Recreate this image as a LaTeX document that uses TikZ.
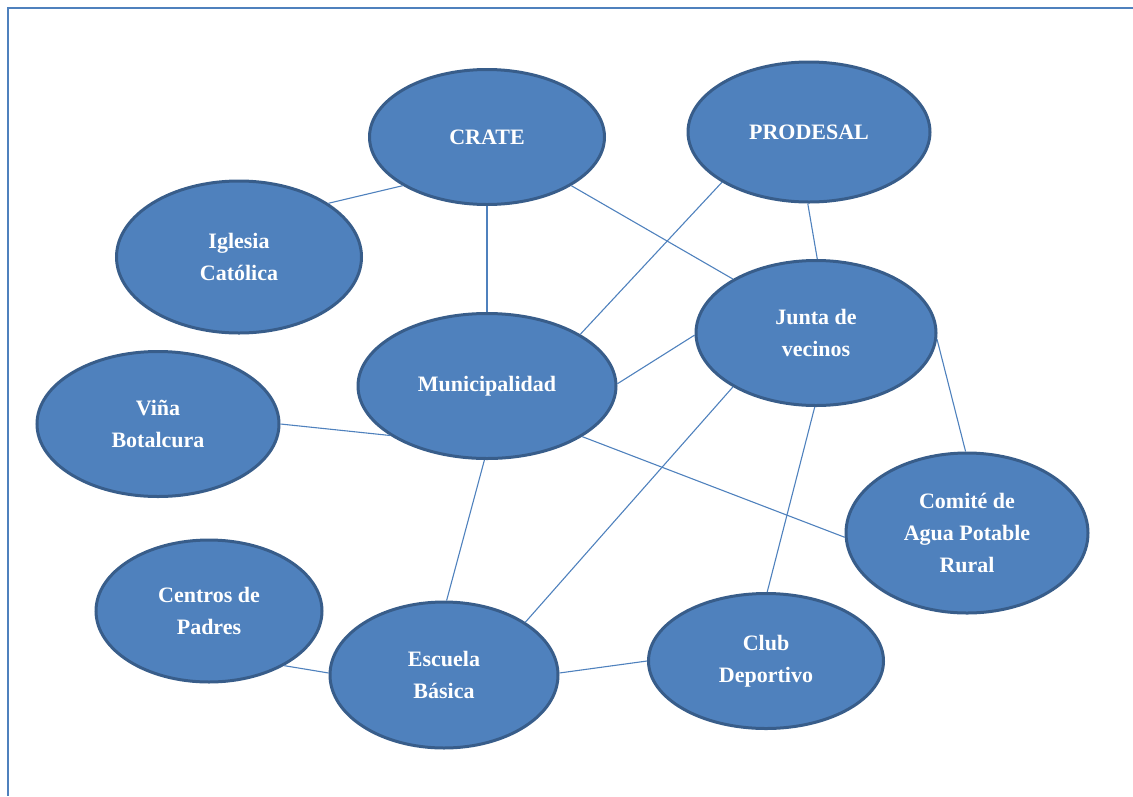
\documentclass[tikz,border=0pt]{standalone}
\usepackage{fontspec}
\setmainfont{Liberation Serif}
\usepackage{xcolor}
\usetikzlibrary{shapes.geometric}
\definecolor{orgfill}{HTML}{4F81BD}
\definecolor{orgline}{HTML}{385D8A}
\definecolor{linkblue}{HTML}{4F81BD}
\tikzset{
    org/.style={
        ellipse,
        draw=orgline,
        line width=3pt,
        fill=orgfill,
        text=white,
        align=center,
        inner sep=0pt,
        font=\fontsize{22}{32}\selectfont\bfseries
    },
    link/.style={
        draw=linkblue,
        line width=1.1pt
    },
    frame/.style={
        draw=linkblue,
        line width=2pt
    }
}

\begin{document}
\begin{tikzpicture}[x=1pt, y=-1pt]
\useasboundingbox (0,0) rectangle (1133,796);

% Frame
\coordinate (ftr) at (1133,8);
\coordinate (ftl) at (8,8);
\coordinate (fbl) at (8,796);
\draw[frame] (ftr) -- (ftl) -- (fbl);

% Organisations
\node[org, minimum width=235pt, minimum height=135pt] (crate) at (487,137) {CRATE};
\node[org, minimum width=242pt, minimum height=140pt] (prodesal) at (809,132) {PRODESAL};
\node[org, minimum width=245pt, minimum height=152pt] (iglesia) at (239,257) {Iglesia\\Católica};
\node[org, minimum width=240pt, minimum height=145pt] (junta) at (816,333) {Junta de\\vecinos};
\node[org, minimum width=258pt, minimum height=145pt] (muni) at (487,386) {Municipalidad};
\node[org, minimum width=242pt, minimum height=145pt] (vina) at (158,424) {Viña\\Botalcura};
\node[org, minimum width=242pt, minimum height=160pt] (comite) at (967,533) {Comité de\\Agua Potable\\Rural};
\node[org, minimum width=226pt, minimum height=142pt] (centros) at (209,611) {Centros de\\Padres};
\node[org, minimum width=228pt, minimum height=146pt] (escuela) at (444,675) {Escuela\\Básica};
\node[org, minimum width=235pt, minimum height=135pt] (club) at (766,661) {Club\\Deportivo};

% Links
\draw[link] (iglesia.31) -- (crate.210);
\draw[link] (crate.270) -- (muni.90);
\draw[link] (crate.330) -- (junta.147);
\draw[link] (prodesal.210) -- (muni.29);
\draw[link] (prodesal.269) -- (junta.89);
\draw[link] (muni.1) -- (junta.181);
\draw[link] (vina.0) -- (muni.207);
\draw[link] (muni.268) -- (escuela.88);
\draw[link] (muni.332) -- (comite.182);
\draw[link] (junta.213) -- (escuela.33);
\draw[link] (junta.269) -- (club.89);
\draw[link] (junta.357) -- (comite.91);
\draw[link] (centros.324) -- (escuela.179);
\draw[link] (escuela.1) -- (club.180);

\end{tikzpicture}
\end{document}
